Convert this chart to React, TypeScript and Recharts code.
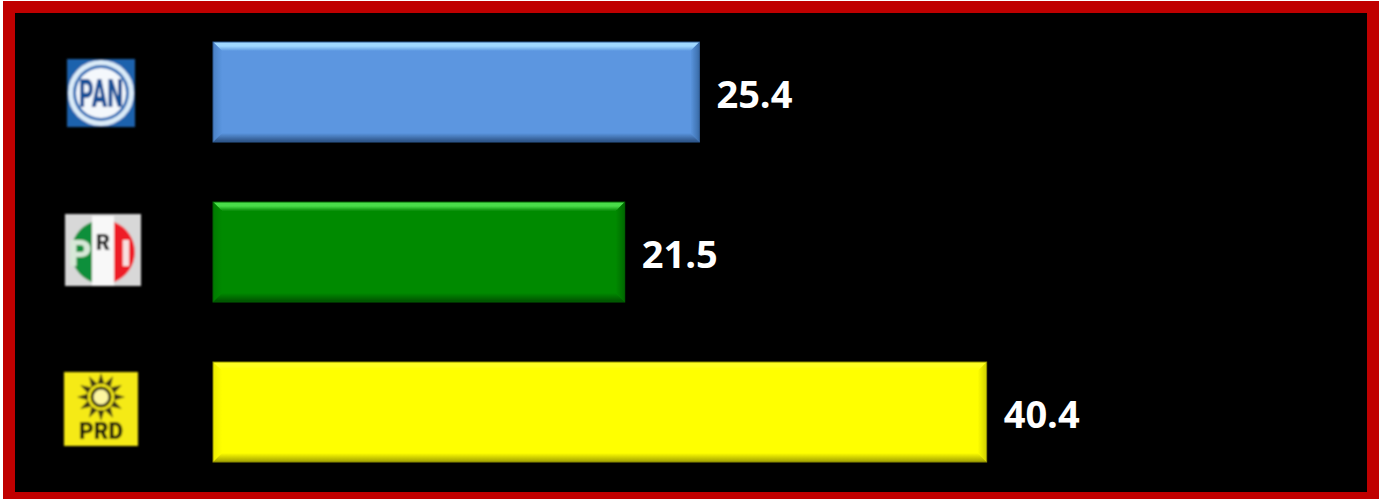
import React from 'react';
import { BarChart, Bar, XAxis, YAxis, Cell, LabelList } from 'recharts';

const parties = ['PAN', 'PRI', 'PRD'];
const votes = [25.4, 21.5, 40.4];
const barColors = ['#5b96e0', '#058a05', '#ffff00'];
const topColors = ['#a0d8ff', '#48dc48', '#ffff20'];
const leftColors = ['#4a80c4', '#057a05', '#ecec00'];
const rightColors = ['#3a6ca8', '#046804', '#d0d000'];
const bottomColors = ['#2a4f80', '#034f03', '#a0a000'];
const edgeColors = ['#2f5a92', '#046004', '#8a8a00'];

const data = parties.map((party, i) => ({ party, value: votes[i] }));

const BevelBar = (props: any) => {
    const { x, y, width, height, index, fill } = props;
    const b = 9;
    const x2 = x + width;
    const y2 = y + height;
    return (
        <g filter="url(#barSoft)">
            <rect x={x} y={y} width={width} height={height} fill={fill} />
            <polygon points={`${x},${y} ${x2},${y} ${x2 - b},${y + b} ${x + b},${y + b}`} fill={`url(#top${index})`} />
            <polygon points={`${x},${y} ${x + b},${y + b} ${x + b},${y2 - b} ${x},${y2}`} fill={`url(#left${index})`} />
            <polygon points={`${x2},${y} ${x2},${y2} ${x2 - b},${y2 - b} ${x2 - b},${y + b}`} fill={`url(#right${index})`} />
            <polygon points={`${x},${y2} ${x + b},${y2 - b} ${x2 - b},${y2 - b} ${x2},${y2}`} fill={`url(#bottom${index})`} />
            <rect x={x} y={y} width={width} height={height} fill="none" stroke={edgeColors[index]} strokeWidth={1} />
        </g>
    );
};

const PanLogo = () => (
    <g filter="url(#logoBlur)">
        <rect x={-34} y={-33} width={68} height={68} fill="#1f62ad" />
        <circle cx={0} cy={1} r={33} fill="#dcecf8" />
        <circle cx={0} cy={1} r={28} fill="#2a6cb5" />
        <circle cx={0} cy={1} r={25} fill="#f4f8fc" />
        <text x={0} y={15} textAnchor="middle" fontFamily="Roboto" fontWeight="900" fontSize={38} textLength={44} lengthAdjust="spacingAndGlyphs" fill="#174f96">PAN</text>
    </g>
);

const PriLogo = () => (
    <g filter="url(#logoBlur)">
        <rect x={-38} y={-38} width={76} height={72} fill="#d8d8d8" />
        <path d="M-11,-30 A32,32 0 0 0 -11,30 Z" fill="#0f8f3a" />
        <rect x={-11} y={-36} width={22} height={70} fill="#f8f8f8" />
        <path d="M11,-30 A32,32 0 0 1 11,30 Z" fill="#ee1c25" />
        <text x={-23} y={14} textAnchor="middle" fontFamily="Roboto" fontWeight="900" fontSize={36} fill="#d8e8d8">P</text>
        <text x={0} y={-2} textAnchor="middle" fontFamily="Roboto" fontWeight="900" fontSize={22} fill="#222">R</text>
        <text x={23} y={14} textAnchor="middle" fontFamily="Roboto" fontWeight="900" fontSize={36} fill="#f8e0e0">I</text>
    </g>
);

const rayAngles = [0, 30, 60, 90, 120, 150, 180, 210, 240, 270, 300, 330];

const PrdLogo = () => (
    <g filter="url(#logoBlur)">
        <rect x={-37} y={-40} width={74} height={74} fill="#f5ea14" />
        <g transform="translate(0,-15)">
            {rayAngles.map((a) => (
                <polygon key={a} points="-3.5,-13 3.5,-13 0,-24" fill="#3a3612" transform={`rotate(${a})`} />
            ))}
            <circle r={9} fill="#fdf6a0" stroke="#2e2a10" strokeWidth={3} />
        </g>
        <text x={0} y={27} textAnchor="middle" fontFamily="Roboto" fontWeight="900" fontSize={23} textLength={44} lengthAdjust="spacingAndGlyphs" fill="#15130a">PRD</text>
    </g>
);

const logos: any = { PAN: PanLogo, PRI: PriLogo, PRD: PrdLogo };
const logoCenters = [101, 103, 101];

const LogoTick = ({ y, payload, index }: any) => {
    const Logo = logos[payload.value];
    return (
        <g transform={`translate(${logoCenters[index]},${y})`}>
            <Logo />
        </g>
    );
};

const App = () => {
    return (
        <div style={{ position: 'absolute', left: 0, top: 0, width: 1380, height: 499, background: '#fff', overflow: 'hidden' }}>
            <div style={{ position: 'absolute', left: 3, top: 1, width: 1376, height: 498, background: '#c00000' }} />
            <div style={{ position: 'absolute', left: 15, top: 13, width: 1352, height: 479, background: '#000' }} />
            <div style={{ position: 'absolute', left: 0, top: 0 }}>
                <BarChart
                    width={1380}
                    height={499}
                    data={data}
                    layout="vertical"
                    margin={{ top: 12, right: 18, bottom: 7, left: 0 }}
                    barCategoryGap="18.75%"
                >
                    <defs>
                        <filter id="logoBlur" x="-10%" y="-10%" width="120%" height="120%">
                            <feGaussianBlur stdDeviation="0.9" />
                        </filter>
                        <filter id="barSoft" x="-2%" y="-5%" width="104%" height="110%">
                            <feGaussianBlur stdDeviation="0.5" />
                        </filter>
                        {parties.map((p, i) => (
                            <React.Fragment key={p}>
                                <linearGradient id={`top${i}`} x1="0" y1="0" x2="0" y2="1">
                                    <stop offset="0%" stopColor={topColors[i]} />
                                    <stop offset="45%" stopColor={topColors[i]} />
                                    <stop offset="100%" stopColor={barColors[i]} />
                                </linearGradient>
                                <linearGradient id={`left${i}`} x1="0" y1="0" x2="1" y2="0">
                                    <stop offset="0%" stopColor={leftColors[i]} />
                                    <stop offset="100%" stopColor={barColors[i]} />
                                </linearGradient>
                                <linearGradient id={`right${i}`} x1="0" y1="0" x2="1" y2="0">
                                    <stop offset="0%" stopColor={barColors[i]} />
                                    <stop offset="100%" stopColor={rightColors[i]} />
                                </linearGradient>
                                <linearGradient id={`bottom${i}`} x1="0" y1="0" x2="0" y2="1">
                                    <stop offset="0%" stopColor={barColors[i]} />
                                    <stop offset="100%" stopColor={bottomColors[i]} />
                                </linearGradient>
                            </React.Fragment>
                        ))}
                    </defs>
                    <XAxis type="number" domain={[0, 60]} hide />
                    <YAxis type="category" dataKey="party" width={213} axisLine={false} tickLine={false} tick={<LogoTick />} />
                    <Bar dataKey="value" shape={<BevelBar />} isAnimationActive={false}>
                        {data.map((entry, index) => (
                            <Cell key={`cell-${index}`} fill={barColors[index]} />
                        ))}
                        <LabelList
                            dataKey="value"
                            position="right"
                            offset={17}
                            dy={3}
                            fill="#fff"
                            fontFamily="Open Sans"
                            fontWeight="bold"
                            fontSize={38}
                            formatter={(v: any) => Number(v).toFixed(1)}
                        />
                    </Bar>
                </BarChart>
            </div>
        </div>
    );
};

export default App;
